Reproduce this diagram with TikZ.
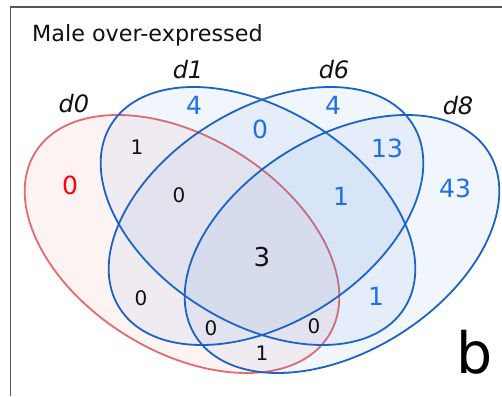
\documentclass[tikz,border=0pt]{standalone}
\usepackage{fontspec}
\setmainfont{DejaVu Sans}
\definecolor{vennink}{HTML}{111111}
\definecolor{vennframe}{HTML}{555555}
\definecolor{vennblue}{HTML}{1A63C4}
\definecolor{vennbluefill}{HTML}{3A7BD5}
\definecolor{vennred}{HTML}{E46A6E}
\definecolor{vennredfill}{HTML}{E66464}
\definecolor{venncount}{HTML}{1F6FE6}
\definecolor{vennalert}{HTML}{FF0000}
\tikzset{
  bluering/.style={draw=vennblue, line width=1.8pt, fill=vennbluefill, fill opacity=.065},
  redring/.style={draw=vennred, line width=1.8pt, fill=vennredfill, fill opacity=.075},
  titletext/.style={font=\fontsize{22.3}{26}\selectfont, text=vennink, inner sep=0pt},
  setname/.style={font=\fontsize{24}{28}\selectfont\itshape, text=vennink},
  blackcount/.style={font=\fontsize{20}{24}\selectfont, text=vennink},
  bluecount/.style={font=\fontsize{25}{30}\selectfont, text=venncount},
  redcount/.style={font=\fontsize{25}{30}\selectfont, text=vennalert},
  paneltag/.style={font=\fontsize{57}{60}\selectfont, text=black}
}

\begin{document}
\begin{tikzpicture}[x=1pt,y=1pt]
  \useasboundingbox (0,0) rectangle (502,396);
  \fill[white] (0,0) rectangle (502,396);
  % panel frame, cut off at the right and bottom
  \draw[vennframe, line width=1.3pt] (10.5,0) -- (10.5,389) -- (502,389);
  \node[titletext, anchor=base west] (title) at (32,354) {Male over-expressed};

  % the four sets
  \draw[redring, rotate around={-32:(182,152)}] (182,152) ellipse (173 and 107);
  \draw[bluering, rotate around={-32:(258,180)}] (258,180) ellipse (173 and 107);
  \draw[bluering, rotate around={32:(266,180)}] (266,180) ellipse (173 and 107);
  \draw[bluering, rotate around={32:(342,152)}] (342,152) ellipse (173 and 107);

  \node[setname] (dzero) at (74,292) {d0};
  \node[setname] (done) at (188,326) {d1};
  \node[setname] (dsix) at (334,326) {d6};
  \node[setname] (deight) at (458,290) {d8};

  % region counts
  \node[redcount] (nA) at (70,211) {0};
  \node[bluecount] (nB) at (194,291) {4};
  \node[bluecount] (nC) at (333,291) {4};
  \node[bluecount] (nD) at (455,208) {43};
  \node[bluecount] (nBC) at (260,267) {0};
  \node[blackcount] (nAB) at (137,249) {1};
  \node[bluecount] (nCD) at (387,248) {13};
  \node[blackcount] (nABC) at (179,201) {0};
  \node[bluecount] (nBCD) at (341,200) {1};
  \node[font=\fontsize{26}{30}\selectfont, text=vennink] (nABCD) at (262,139) {3};
  \node[blackcount] (nAC) at (141,98) {0};
  \node[bluecount] (nBD) at (376,100) {1};
  \node[blackcount] (nACD) at (211,68) {0};
  \node[blackcount] (nABD) at (314,70) {0};
  \node[blackcount] (nAD) at (262,43) {1};

  \node[paneltag, anchor=base] (panel) at (475,23) {b};
\end{tikzpicture}
\end{document}
